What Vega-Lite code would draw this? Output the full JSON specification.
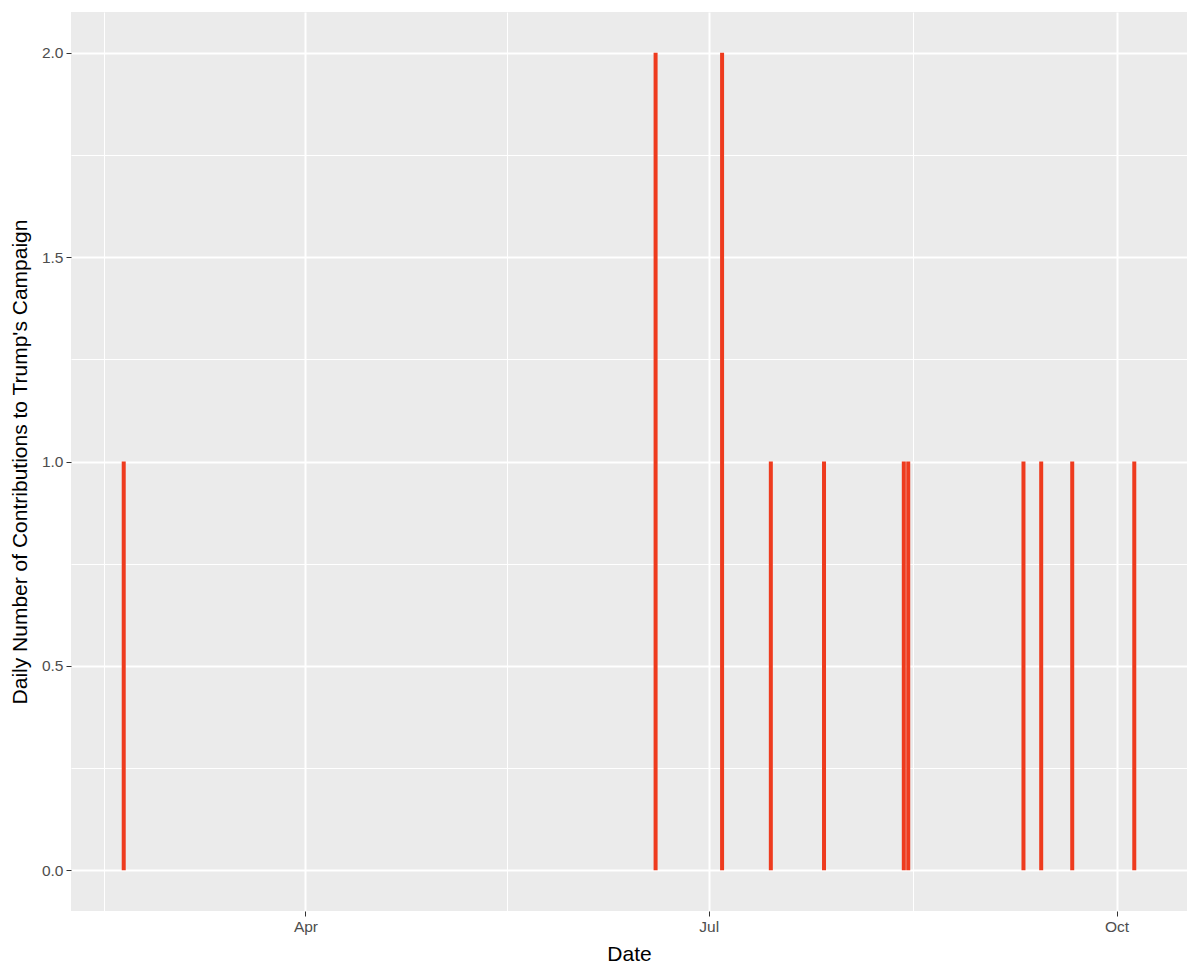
{
  "$schema": "https://vega.github.io/schema/vega-lite/v6.json",
  "width": 1116,
  "height": 899,
  "autosize": "none",
  "padding": {"left": 71, "top": 12, "right": 13, "bottom": 63},
  "background": "white",
  "config": {
    "view": {"fill": "#EBEBEB", "stroke": null},
    "axis": {
      "domain": false,
      "tickColor": "#333333",
      "tickSize": 5,
      "tickWidth": 1,
      "labelColor": "#4D4D4D",
      "labelFont": "Liberation Sans",
      "labelFontSize": 15.5,
      "titleFont": "Liberation Sans",
      "titleFontSize": 21,
      "titleFontWeight": "normal",
      "titleColor": "#000000",
      "gridColor": "#FFFFFF"
    }
  },
  "data": {
    "values": [
      {"date": "2016-02-20", "count": 1},
      {"date": "2016-06-19", "count": 2},
      {"date": "2016-07-04", "count": 2},
      {"date": "2016-07-15", "count": 1},
      {"date": "2016-07-27", "count": 1},
      {"date": "2016-08-14", "count": 1},
      {"date": "2016-08-15", "count": 1},
      {"date": "2016-09-10", "count": 1},
      {"date": "2016-09-14", "count": 1},
      {"date": "2016-09-21", "count": 1},
      {"date": "2016-10-05", "count": 1}
    ]
  },
  "resolve": {"axis": {"x": "independent", "y": "independent"}},
  "layer": [
    {
      "mark": {"type": "bar", "opacity": 0},
      "encoding": {
        "x": {
          "field": "date", "type": "temporal",
          "scale": {"type": "utc", "nice": false, "padding": 0, "domain": [
            {"year": 2016, "month": 2, "date": 8, "hours": 2, "minutes": 30, "utc": true},
            {"year": 2016, "month": 10, "date": 16, "hours": 21, "minutes": 30, "utc": true}
          ]},
          "axis": {
            "orient": "bottom",
            "values": [
              {"year": 2016, "month": 2, "date": 15, "hours": 12, "utc": true},
              {"year": 2016, "month": 5, "date": 16, "hours": 12, "utc": true},
              {"year": 2016, "month": 8, "date": 16, "utc": true}
            ],
            "labels": false, "ticks": false, "title": null,
            "grid": true, "gridWidth": 1
          }
        },
        "y": {
          "field": "count", "type": "quantitative",
          "scale": {"domain": [-0.1, 2.1], "nice": false, "zero": false},
          "axis": {
            "orient": "left",
            "values": [0.25, 0.75, 1.25, 1.75],
            "labels": false, "ticks": false, "title": null,
            "grid": true, "gridWidth": 1
          }
        }
      }
    },
    {
      "mark": {"type": "bar", "color": "#EE3B1E", "size": 4},
      "encoding": {
        "x": {
          "field": "date", "type": "temporal",
          "axis": {
            "orient": "bottom",
            "values": [
              {"year": 2016, "month": 4, "date": 1, "utc": true},
              {"year": 2016, "month": 7, "date": 1, "utc": true},
              {"year": 2016, "month": 10, "date": 1, "utc": true}
            ],
            "format": "%b",
            "title": "Date",
            "grid": true, "gridWidth": 2,
            "labelPadding": 3,
            "titlePadding": 9
          }
        },
        "y": {
          "field": "count", "type": "quantitative",
          "axis": {
            "orient": "left",
            "values": [0, 0.5, 1, 1.5, 2],
            "format": ".1f",
            "title": "Daily Number of Contributions to Trump's Campaign",
            "grid": true, "gridWidth": 2,
            "labelPadding": 3,
            "titlePadding": 11
          }
        }
      }
    }
  ]
}
